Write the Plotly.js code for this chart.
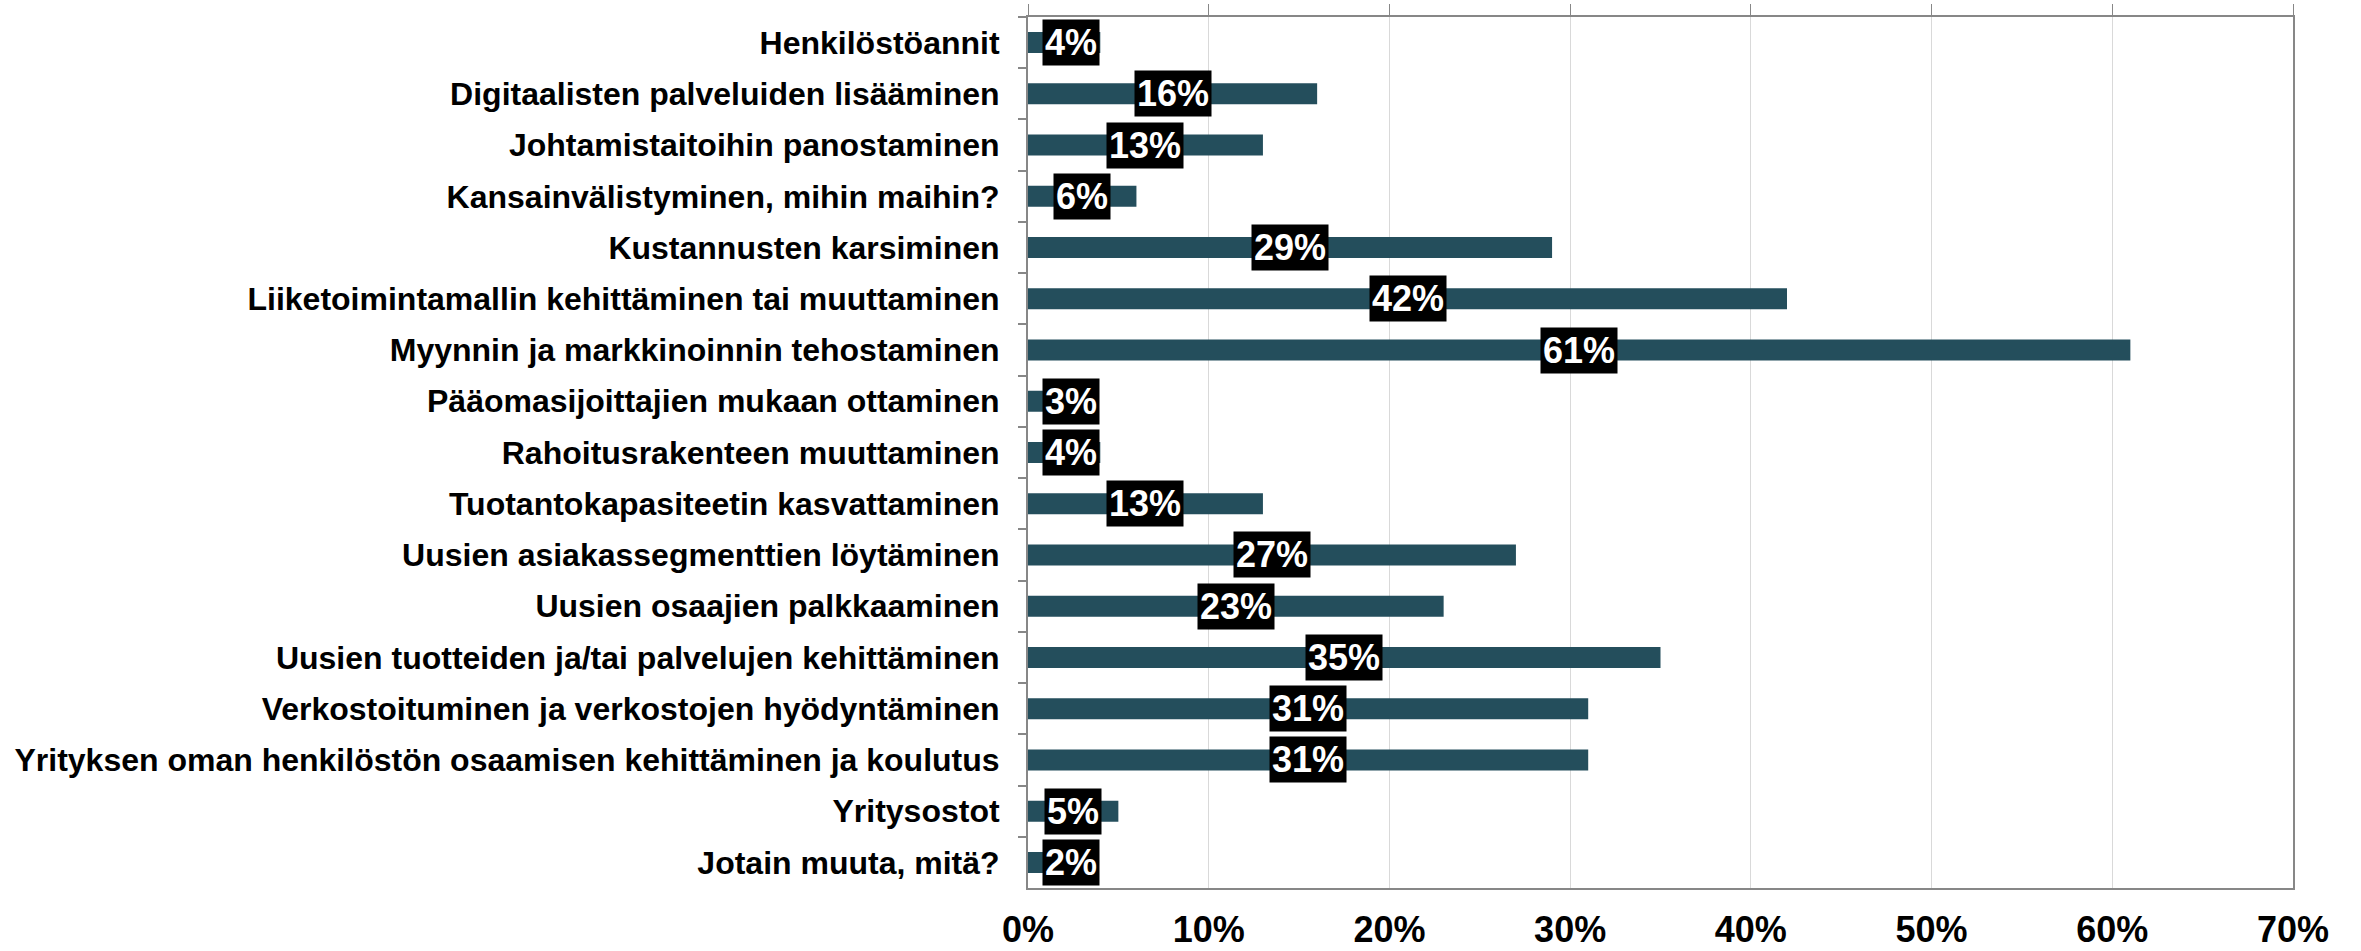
<!DOCTYPE html>
<html>
<head>
<meta charset="utf-8">
<script src="https://cdn.plot.ly/plotly-3.0.1.min.js"></script>
<style>html,body{margin:0;padding:0;background:#fff;}#chart{width:2361px;height:951px;}</style>
</head>
<body>
<div id="chart"></div>
<script>
const categories = [
  "Henkilöstöannit",
  "Digitaalisten palveluiden lisääminen",
  "Johtamistaitoihin panostaminen",
  "Kansainvälistyminen, mihin maihin?",
  "Kustannusten karsiminen",
  "Liiketoimintamallin kehittäminen tai muuttaminen",
  "Myynnin ja markkinoinnin tehostaminen",
  "Pääomasijoittajien mukaan ottaminen",
  "Rahoitusrakenteen muuttaminen",
  "Tuotantokapasiteetin kasvattaminen",
  "Uusien asiakassegmenttien löytäminen",
  "Uusien osaajien palkkaaminen",
  "Uusien tuotteiden ja/tai palvelujen kehittäminen",
  "Verkostoituminen ja verkostojen hyödyntäminen",
  "Yrityksen oman henkilöstön osaamisen kehittäminen ja koulutus",
  "Yritysostot",
  "Jotain muuta, mitä?"
];
const values = [4, 16, 13, 6, 29, 42, 61, 3, 4, 13, 27, 23, 35, 31, 31, 5, 2];
const tickValues = [0, 10, 20, 30, 40, 50, 60, 70];
const tickLabels = ["0%", "10%", "20%", "30%", "40%", "50%", "60%", "70%"];

const FONT = "Liberation Sans, Arial, sans-serif";
const barColor = "#244e5c";
const frameColor = "#878787";

const traces = [
  {
    type: "bar",
    orientation: "h",
    x: values,
    y: categories,
    marker: {color: barColor},
    hoverinfo: "x+y",
    xaxis: "x",
    yaxis: "y"
  },
  {
    type: "scatter",
    mode: "markers",
    x: values,
    y: categories,
    marker: {opacity: 0, size: 1},
    hoverinfo: "skip",
    showlegend: false,
    xaxis: "x2",
    yaxis: "y"
  }
];

const annotations = values.map((v, i) => ({
  x: Math.max(v / 2, 2.4),
  y: categories[i],
  xref: "x",
  yref: "y",
  text: v + "%",
  showarrow: false,
  bgcolor: "#000000",
  borderpad: 2,
  font: {family: FONT, size: 36, color: "#ffffff", weight: "bold"}
}));

const layout = {
  width: 2361,
  height: 951,
  margin: {l: 1028, r: 68, t: 17, b: 63, pad: 0},
  paper_bgcolor: "#ffffff",
  plot_bgcolor: "#ffffff",
  showlegend: false,
  bargap: 0.59,
  font: {family: FONT, color: "#000000"},
  xaxis: {
    range: [0, 70],
    tickvals: tickValues,
    ticktext: tickLabels,
    showgrid: true,
    gridcolor: "#d9d9d9",
    gridwidth: 1,
    zeroline: false,
    showline: true,
    linecolor: frameColor,
    linewidth: 2,
    ticks: "",
    ticklabelstandoff: 9,
    tickfont: {family: FONT, size: 36, color: "#000000", weight: "bold"},
    fixedrange: true
  },
  xaxis2: {
    overlaying: "x",
    side: "top",
    range: [0, 70],
    tickvals: tickValues,
    showticklabels: false,
    showgrid: false,
    zeroline: false,
    showline: true,
    linecolor: frameColor,
    linewidth: 2,
    ticks: "outside",
    ticklen: 11,
    tickwidth: 1,
    tickcolor: frameColor,
    fixedrange: true
  },
  yaxis: {
    range: [categories.length - 0.5, -0.5],
    autorange: false,
    type: "category",
    showline: true,
    mirror: true,
    linecolor: frameColor,
    linewidth: 2,
    showgrid: false,
    zeroline: false,
    ticks: "outside",
    tickson: "boundaries",
    ticklen: 8,
    tickwidth: 2,
    tickcolor: frameColor,
    ticklabelstandoff: 20,
    tickfont: {family: FONT, size: 32, color: "#000000", weight: "bold"},
    fixedrange: true
  },
  annotations: annotations
};

Plotly.newPlot("chart", traces, layout, {displayModeBar: false, staticPlot: true});
</script>
</body>
</html>
